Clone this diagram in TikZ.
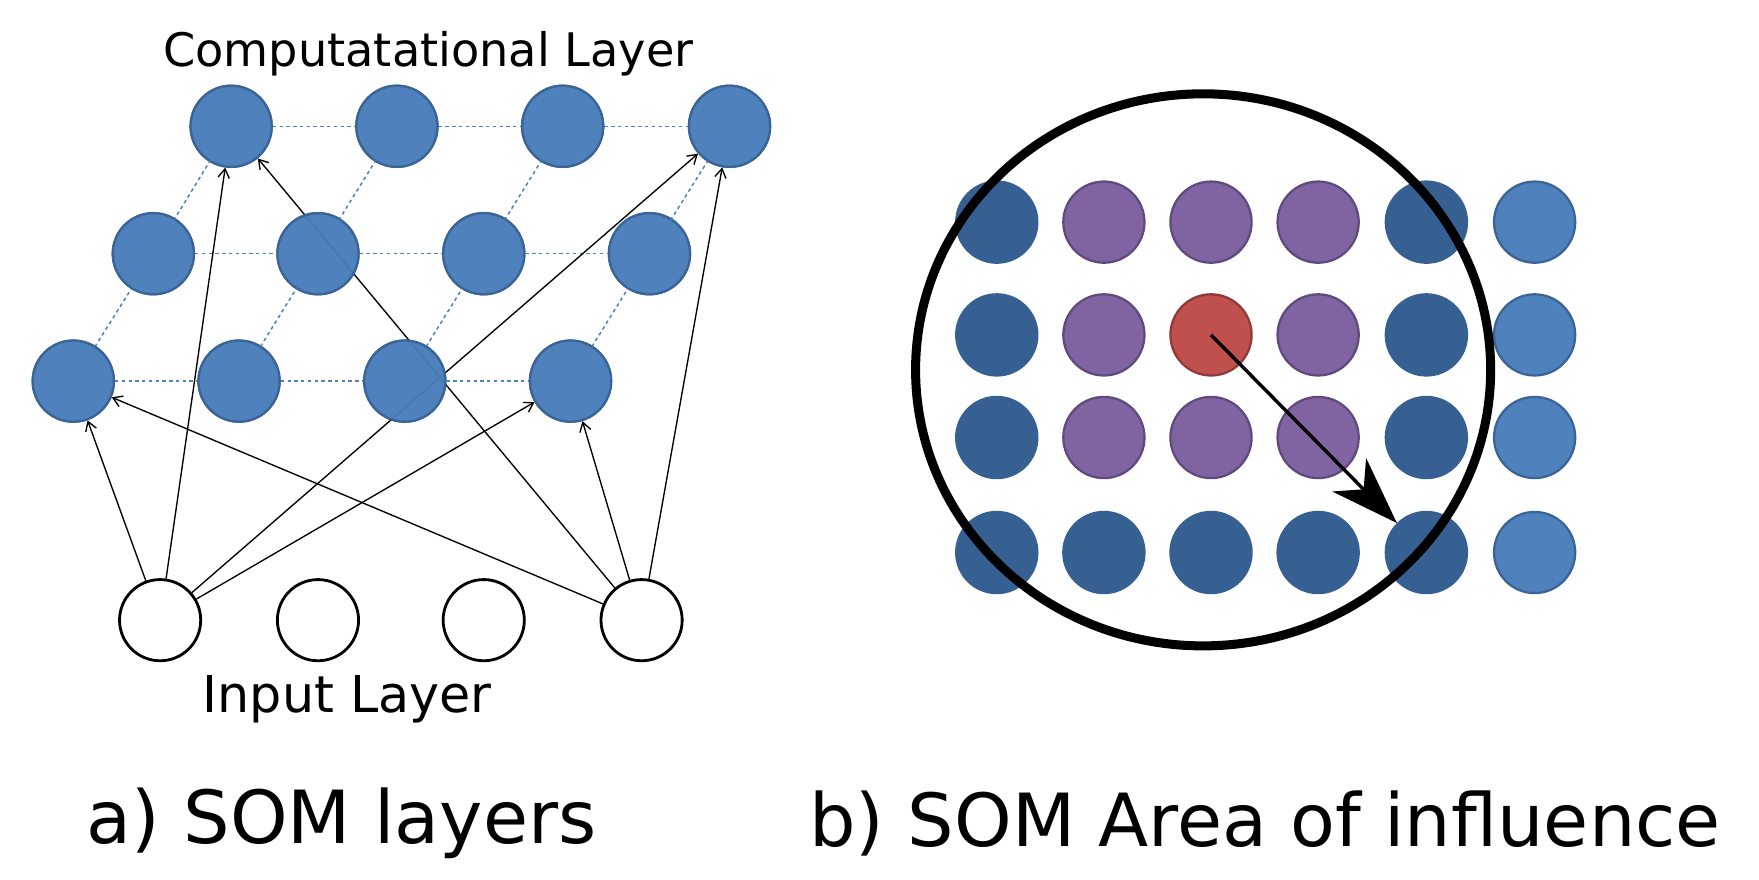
\documentclass[tikz,border=0pt]{standalone}
\usepackage{fontspec}
\setmainfont{DejaVu Sans}
\usetikzlibrary{arrows.meta}
\definecolor{lb}{HTML}{4F81BD}
\definecolor{lbd}{HTML}{3A6496}
\definecolor{db}{HTML}{376092}
\definecolor{pu}{HTML}{8064A2}
\definecolor{pud}{HTML}{5F4A7E}
\definecolor{rd}{HTML}{C0504D}
\definecolor{rdd}{HTML}{8E3A38}
\begin{document}
\begin{tikzpicture}[x=1pt,y=-1pt,
  comp/.style={circle,minimum size=72pt,inner sep=0,fill=lb,draw=lbd,line width=2pt},
  inp/.style={circle,minimum size=72pt,inner sep=0,fill=white,draw=black,line width=2.5pt},
  g/.style={circle,minimum size=72pt,inner sep=0,line width=2pt},
  gd/.style={g,fill=db,draw=db},
  gl/.style={g,fill=lb,draw=lbd},
  gp/.style={g,fill=pu,draw=pud},
  gr/.style={g,fill=rd,draw=rdd},
  grid/.style={draw=lb,dashed,line width=1.2pt},
  con/.style={draw=black,line width=1.2pt,-{Straight Barb[length=8pt,width=10pt]}}]
\useasboundingbox (0,0) rectangle (1560,780);
% computational layer
\foreach \x [count=\i] in {205,352,499,647} \node[comp] (t\i) at (\x,112) {};
\foreach \x [count=\i] in {136,282,429,576} \node[comp] (m\i) at (\x,225) {};
\foreach \x [count=\i] in {65,212,359,506} \node[comp] (b\i) at (\x,338) {};
\foreach \x [count=\i] in {142,282,429,569} \node[inp] (in\i) at (\x,550) {};
\foreach \r in {t,m,b}{
  \draw[grid] (\r1) -- (\r2) -- (\r3) -- (\r4);}
\foreach \i in {1,2,3,4}{
  \draw[grid] (b\i.center) -- (m\i.center) -- (t\i.center);}
\draw[con] (in1) -- (b1);
\draw[con] (in1) -- (t1);
\draw[con] (in1) -- (t4);
\draw[con] (in1) -- (b4);
\draw[con] (in4) -- (b1);
\draw[con] (in4) -- (t1);
\draw[con] (in4) -- (b4);
\draw[con] (in4) -- (t4);
\foreach \x [count=\i] in {205,352,499,647} \node[comp,fill opacity=0.92] (tt\i) at (\x,112) {};
\foreach \x [count=\i] in {136,282,429,576} \node[comp,fill opacity=0.92] (mm\i) at (\x,225) {};
\foreach \x [count=\i] in {65,212,359,506} \node[comp,fill opacity=0.92] (bb\i) at (\x,338) {};
\foreach \i in {1,2,3,4}{
  \draw[grid,opacity=0.5] (b\i.center) -- (m\i.center) -- (t\i.center);}
\node[font=\fontsize{41}{48}\selectfont] (ct) at (380,48) {Computatational Layer};
\node[font=\fontsize{45}{52}\selectfont] (il) at (308,620) {Input Layer};
\node[font=\fontsize{65}{74}\selectfont] (ca) at (303,730) {a) SOM layers};
\node[font=\fontsize{65}{74}\selectfont] (cb) at (1122,730) {b) SOM Area of influence};
% right panel
\foreach \x [count=\i] in {884,979,1074,1169,1265,1361}{
  \foreach \y [count=\j] in {197,297,388,490}{
    \coordinate (p\i\j) at (\x,\y);}}
\foreach \i/\j/\s in {1/1/gd,2/1/gp,3/1/gp,4/1/gp,5/1/gd,6/1/gl,
  1/2/gd,2/2/gp,3/2/gr,4/2/gp,5/2/gd,6/2/gl,
  1/3/gd,2/3/gp,3/3/gp,4/3/gp,5/3/gd,6/3/gl,
  1/4/gd,2/4/gd,3/4/gd,4/4/gd,5/4/gd,6/4/gl}
  \node[\s] (n\i\j) at (p\i\j) {};
\node[circle,draw=black,line width=8pt,minimum width=510pt,inner sep=0,yscale=0.96] (area) at (1067,328) {};
\draw[line width=3pt,-{Triangle[length=60pt,width=42pt,inset=18pt]}] (n32.center) -- (n54.north west);
\end{tikzpicture}
\end{document}
